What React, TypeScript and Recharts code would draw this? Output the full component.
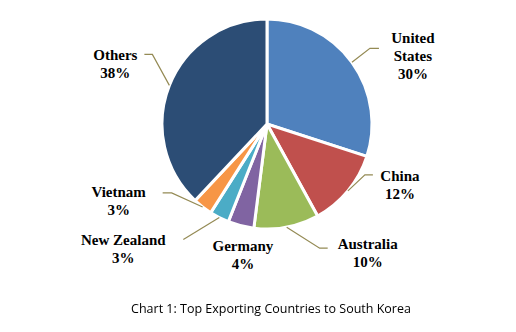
import { PieChart, Pie, Cell } from 'recharts'

const countries = ['United States', 'China', 'Australia', 'Germany', 'New Zealand', 'Vietnam', 'Others']
const shares = [30, 12, 10, 4, 3, 3, 38]
const colors = ['#4F81BD', '#C0504D', '#9BBB59', '#8064A2', '#4BACC6', '#F79646', '#2C4D75']

const data = countries.map((name, i) => ({ name, value: shares[i] }))

// label placement relative to the point where the slice's mid-angle meets the rim
// elbow / end of the leader line, and the centre of the first text line
const labelLayout: Record<string, { elbow?: [number, number]; end?: [number, number]; text: [number, number] }> = {
  'United States': { elbow: [18, -14], end: [27, -14], text: [61, -24] },
  China: { elbow: [17, -16], end: [25, -16], text: [52, -15] },
  Australia: { elbow: [33, 21], end: [41, 21], text: [81, 17] },
  Germany: { text: [2, 20] },
  'New Zealand': { elbow: [-36, 22], end: [-36, 22], text: [-96, 22] },
  Vietnam: { elbow: [-31, -14], end: [-40, -14], text: [-84, -15] },
  Others: { elbow: [-17, -31], end: [-25, -31], text: [-54, -30] },
}

const RAD = Math.PI / 180

function renderLabel(props: any) {
  const { cx, cy, midAngle, outerRadius, name, value } = props
  const ex = cx + outerRadius * Math.cos(-midAngle * RAD)
  const ey = cy + outerRadius * Math.sin(-midAngle * RAD)
  const lay = labelLayout[name]
  const lines = name === 'United States' ? ['United', 'States', `${value}%`] : [name, `${value}%`]
  return (
    <g key={name}>
      {lay.elbow && lay.end && (
        <polyline
          points={`${ex},${ey} ${ex + lay.elbow[0]},${ey + lay.elbow[1]} ${ex + lay.end[0]},${ey + lay.end[1]}`}
          fill="none"
          stroke="#948A54"
          strokeWidth={1.2}
        />
      )}
      {lines.map((t, i) => (
        <text
          key={i}
          x={ex + lay.text[0]}
          y={ey + lay.text[1] + i * 18}
          textAnchor="middle"
          dominantBaseline="central"
          fontFamily="'Liberation Serif', serif"
          fontWeight="bold"
          fontSize={15}
          fill="#000"
        >
          {t}
        </text>
      ))}
    </g>
  )
}

export default function App() {
  return (
    <div style={{ position: 'fixed', left: 0, top: 0, width: 516, height: 332, background: '#fff' }}>
      <PieChart width={516} height={290} margin={{ top: 0, right: 0, bottom: 0, left: 0 }}>
        <Pie
          data={data}
          dataKey="value"
          nameKey="name"
          cx={267}
          cy={124}
          outerRadius={105}
          startAngle={90}
          endAngle={-270}
          stroke="#fff"
          strokeWidth={3}
          label={renderLabel}
          labelLine={false}
          isAnimationActive={false}
        >
          {data.map((d, i) => (
            <Cell key={d.name} fill={colors[i]} />
          ))}
        </Pie>
      </PieChart>
      <div
        style={{
          position: 'absolute',
          left: 0,
          width: 542,
          top: 300,
          textAlign: 'center',
          fontFamily: "'Open Sans', sans-serif",
          fontSize: 12.5,
          color: '#000',
        }}
      >
        Chart 1: Top Exporting Countries to South Korea
      </div>
    </div>
  )
}
